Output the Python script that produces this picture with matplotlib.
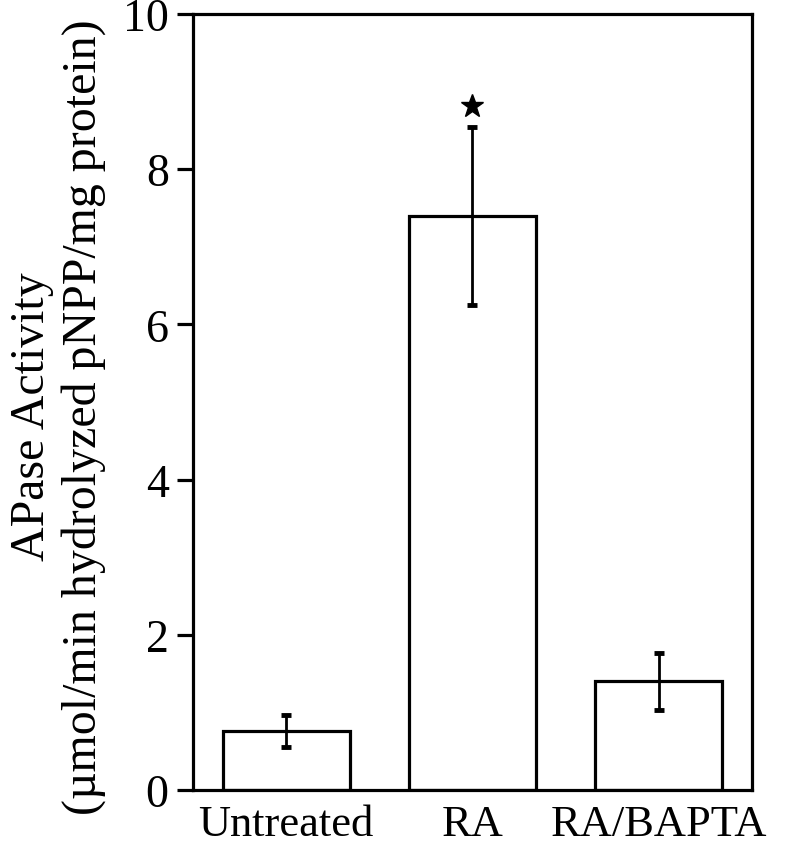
import matplotlib
matplotlib.use("Agg")
import matplotlib.pyplot as plt

categories = ["Untreated", "RA", "RA/BAPTA"]
values = [0.76, 7.40, 1.40]
errors = [0.21, 1.15, 0.37]
star_index = 1
star_value = 8.82
yticks = [0, 2, 4, 6, 8, 10]

plt.rcParams['font.family'] = ['Liberation Serif', 'DejaVu Serif']

fig = plt.figure(figsize=(7.85, 8.53), dpi=100)
ax = fig.add_axes([193/785, 1-791/853, (752-193)/785, (791-15)/853])

x = list(range(len(categories)))
ax.bar(x, values, width=0.68, color='white', edgecolor='black', linewidth=2.3, zorder=2)
ax.errorbar(x, values, yerr=errors, fmt='none', ecolor='black', elinewidth=2.0,
            capsize=3.3, capthick=3.5, zorder=3)
ax.plot([x[star_index]], [star_value], marker='*', color='black', markersize=17, linestyle='none')

ax.set_xlim(-0.5, 2.5)
ax.set_ylim(0, 10)
ax.set_yticks(yticks)
ax.set_yticklabels([str(t) for t in yticks])
ax.set_xticks(x)
ax.set_xticklabels(categories)

for s in ax.spines.values():
    s.set_linewidth(2.3)

ax.tick_params(axis='y', direction='out', length=11.5, width=2.3, labelsize=33, pad=6)
ax.tick_params(axis='x', length=0, labelsize=32, pad=10)

ax.set_ylabel("APase Activity\n(\u00b5mol/min hydrolyzed pNPP/mg protein)", fontsize=34.5,
              linespacing=1.2, labelpad=12)
ax.yaxis.label.set_y(0.482)

fig.savefig("out.png", dpi=100)
